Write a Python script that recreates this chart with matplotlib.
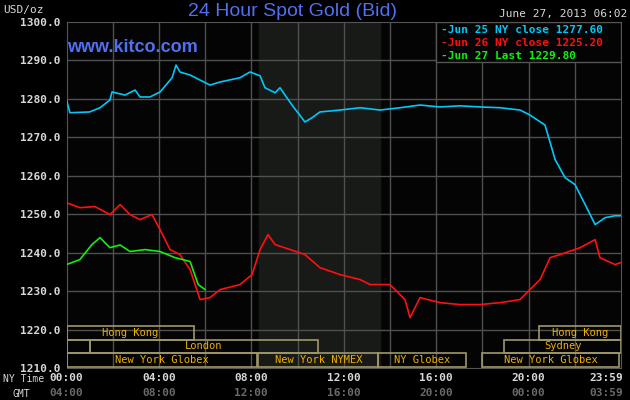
import matplotlib
matplotlib.use("Agg")
import matplotlib.pyplot as plt
from matplotlib.patches import Rectangle

# NY time in hours, price in USD/oz
jun25_hours = [0, 0.15, 1.0, 1.45, 1.88, 1.97, 2.53, 2.97, 3.18, 3.61, 4.05, 4.57, 4.74, 4.91,
               5.35, 5.78, 6.21, 6.65, 7.51, 7.94, 8.38, 8.59, 9.03, 9.24, 9.46, 9.76, 10.32,
               10.63, 10.97, 11.84, 12.71, 13.57, 14.44, 15.30, 16.17, 17.03, 17.90, 18.77,
               19.63, 20.06, 20.71, 21.15, 21.58, 22.01, 22.45, 22.88, 23.31, 23.74, 23.98]
jun25_price = [1279.7, 1276.4, 1276.6, 1277.7, 1279.7, 1281.8, 1281.0, 1282.3, 1280.5, 1280.5,
               1281.8, 1285.5, 1288.8, 1287.0, 1286.2, 1284.9, 1283.6, 1284.4, 1285.5, 1287.0,
               1286.0, 1282.9, 1281.6, 1282.9, 1281.0, 1278.4, 1274.0, 1275.1, 1276.6, 1277.1,
               1277.7, 1277.1, 1277.7, 1278.4, 1277.9, 1278.2, 1277.9, 1277.7, 1277.1, 1275.8,
               1273.2, 1264.2, 1259.5, 1257.7, 1252.5, 1247.3, 1249.1, 1249.6, 1249.6]

jun26_hours = [0, 0.58, 1.23, 1.88, 2.32, 2.75, 3.18, 3.70, 4.05, 4.48, 4.91, 5.35, 5.78, 6.21,
               6.65, 7.51, 8.03, 8.38, 8.72, 9.03, 9.68, 10.32, 10.97, 11.84, 12.71, 13.14, 14.0,
               14.65, 14.87, 15.30, 16.17, 17.03, 17.90, 18.77, 19.63, 20.06, 20.50, 20.93, 21.36,
               22.23, 22.88, 23.09, 23.74, 23.98]
jun26_price = [1253.0, 1251.7, 1252.0, 1249.9, 1252.5, 1249.9, 1248.6, 1249.9, 1246.0, 1240.8,
               1239.5, 1235.6, 1227.8, 1228.3, 1230.4, 1231.7, 1234.3, 1240.8, 1244.7, 1242.1,
               1240.8, 1239.5, 1236.1, 1234.3, 1233.0, 1231.7, 1231.7, 1227.8, 1223.1, 1228.3,
               1227.0, 1226.5, 1226.5, 1227.0, 1227.8, 1230.4, 1233.0, 1238.7, 1239.5, 1241.3,
               1243.4, 1238.7, 1236.9, 1237.4]

jun27_hours = [0, 0.58, 1.1, 1.45, 1.88, 2.32, 2.75, 3.4, 4.05, 4.7, 5.35, 5.7, 6.0]
jun27_price = [1236.9, 1238.2, 1242.1, 1243.9, 1241.3, 1242.0, 1240.3, 1240.8, 1240.3, 1238.7,
               1237.7, 1231.7, 1230.4]

legend_labels = ["Jun 25 NY close 1277.60", "Jun 26 NY close 1225.20", "Jun 27 Last 1229.80"]
line_colors = ["#00c8f8", "#ff1010", "#10f010"]

ny_ticks = [0, 4, 8, 12, 16, 20, 23.98]
ny_labels = ["00:00", "04:00", "08:00", "12:00", "16:00", "20:00", "23:59"]
gmt_labels = ["04:00", "08:00", "12:00", "16:00", "20:00", "00:00", "03:59"]

# (row, start hour, end hour, label); row 0 = top
sessions = [(0, 0, 5.5, "Hong Kong"), (0, 20.45, 24, "Hong Kong"),
            (1, 0, 1.0, ""), (1, 1.0, 10.9, "London"), (1, 18.95, 24, "Sydney"),
            (2, 0, 8.25, "New York Globex"), (2, 8.3, 13.5, "New York NYMEX"),
            (2, 13.5, 17.3, "NY Globex"), (2, 18.0, 23.9, "New York Globex")]
row_bounds = [(1217.4, 1220.8), (1214.0, 1217.4), (1210.3, 1214.0)]

mono = "DejaVu Sans Mono"
fig = plt.figure(figsize=(6.3, 4.0), dpi=100, facecolor="black")
ax = fig.add_axes([66.5 / 630, 32 / 400, 554.5 / 630, 346 / 400], facecolor="#040404")

ax.axvspan(8.33, 13.57, color="#181a18", zorder=0)
for h in range(2, 24, 2):
    ax.axvline(h, color="#505050", lw=1, zorder=1)
for p in range(1220, 1300, 10):
    ax.axhline(p, color="#505050", lw=1, zorder=1)

for hrs, pr, c in zip([jun25_hours, jun26_hours, jun27_hours],
                      [jun25_price, jun26_price, jun27_price], line_colors):
    ax.plot(hrs, pr, color=c, lw=1.2, zorder=3)

for row, s, e, name in sessions:
    lo, hi = row_bounds[row]
    ax.add_patch(Rectangle((s, lo), e - s, hi - lo, fill=False, ec="#a09868", lw=1.2, zorder=4))
    if name:
        ax.text((s + e) / 2, (lo + hi) / 2, name, color="#f0b000", fontsize=7.5,
                family=mono, ha="center", va="center", zorder=5)

ax.set_xlim(0, 24)
ax.set_ylim(1210, 1300)
ax.set_yticks(range(1210, 1301, 10))
ax.set_yticklabels([f"{v}.0" for v in range(1210, 1301, 10)], family=mono,
                   fontsize=8, fontweight="bold", color="#d8d8d8")
ax.set_xticks([])
ax.tick_params(axis="y", length=0, pad=4)
for sp in ax.spines.values():
    sp.set_color("#555555")

for t, a, b in zip(ny_ticks, ny_labels, gmt_labels):
    ha = "right" if t > 23 else "center"
    xt = t + 0.1 if t > 23 else t
    ax.text(xt, 1207.5, a, ha=ha, va="center", family=mono,
            fontsize=8, fontweight="bold", color="#d8d8d8", clip_on=False)
    ax.text(xt, 1203.6, b, ha=ha, va="center", family=mono,
            fontsize=8, fontweight="bold", color="#6a6a6a", clip_on=False)
fig.text(0.004, 21 / 400, "NY Time", family=mono, fontsize=7, color="#d8d8d8", va="center")
fig.text(0.02, 6 / 400, "GMT", family=mono, fontsize=7, color="#d8d8d8", va="center")

fig.text(0.005, 0.975, "USD/oz", family=mono, fontsize=8, color="#d8d8d8", va="center")
fig.text(0.465, 0.972, "24 Hour Spot Gold (Bid)", fontsize=14, color="#5070f0", ha="center",
         va="center", family="Liberation Sans")
fig.text(0.107, 0.88, "www.kitco.com", fontsize=13, color="#5070f0", fontweight="bold",
         va="center", family="Liberation Sans")
fig.text(0.995, 0.965, "June 27, 2013 06:02", family=mono, fontsize=8, color="#d8d8d8",
         ha="right", va="center")

ax.add_patch(Rectangle((16.0, 1289.6), 8.0, 10.4, fc="#040404", ec="#555555", lw=1, zorder=6))
for i, (lab, c) in enumerate(zip(legend_labels, line_colors)):
    ax.text(16.2, 1298.0 - i * 3.4, "-" + lab, color=c, family=mono, fontsize=8,
            fontweight="bold", va="center", zorder=7)

fig.savefig("out.png", dpi=100, facecolor="black")
